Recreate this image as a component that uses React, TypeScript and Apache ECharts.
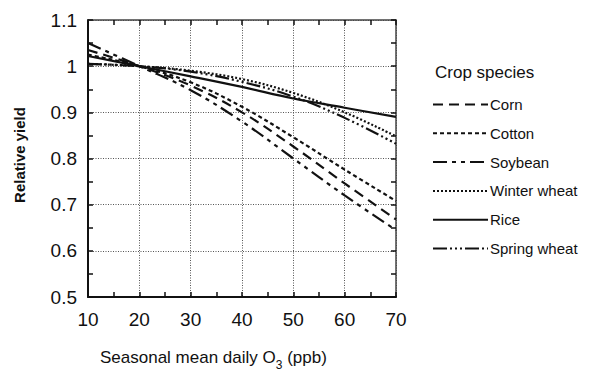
import React, { useEffect, useRef } from "react";
import * as echarts from "echarts";

const ozone = [10, 20, 30, 40, 50, 60, 70];
const cornYield = [1.035, 1.0, 0.958, 0.9, 0.826, 0.746, 0.668];
const cottonYield = [1.025, 1.0, 0.965, 0.912, 0.846, 0.776, 0.708];
const soybeanYield = [1.05, 1.0, 0.948, 0.88, 0.8, 0.72, 0.645];
const winterWheatYield = [1.005, 1.0, 0.99, 0.972, 0.942, 0.9, 0.848];
const riceYield = [1.022, 1.0, 0.978, 0.955, 0.93, 0.91, 0.89];
const springWheatYield = [1.005, 1.0, 0.988, 0.966, 0.934, 0.888, 0.832];

const seriesNames = ["Corn", "Cotton", "Soybean", "Winter wheat", "Rice", "Spring wheat"];
const seriesValues = [cornYield, cottonYield, soybeanYield, winterWheatYield, riceYield, springWheatYield];
const dashPatterns: (number[] | "solid")[] = [
  [10, 6],
  [4, 3],
  [14, 5, 4, 5, 4, 5],
  [2, 2],
  "solid",
  [14, 3, 2, 3, 2, 3, 2, 3],
];

const xTicks = { min: 10, max: 70, interval: 10 };
const yTicks = { min: 0.5, max: 1.1, interval: 0.1 };

export default function App() {
  const ref = useRef<HTMLDivElement>(null);
  useEffect(() => {
    document.body.style.margin = "0";
    if (!ref.current) return;
    const chart = echarts.init(ref.current, null, { renderer: "svg" });
    const font = "Liberation Sans, Arial, Helvetica, sans-serif";
    const black = "#111";
    const grid = { left: 88, top: 20, right: 207, bottom: 74 };
    const baseX = {
      type: "value" as const,
      min: xTicks.min,
      max: xTicks.max,
      interval: xTicks.interval,
    };
    const baseY = {
      type: "value" as const,
      min: yTicks.min,
      max: yTicks.max,
      interval: yTicks.interval,
    };
    chart.setOption({
      animation: false,
      grid,
      legend: {
        orient: "vertical",
        left: 432,
        top: 97,
        padding: 0,
        itemWidth: 55,
        itemHeight: 14,
        itemGap: 14.8 - 1,
        itemStyle: { opacity: 0 },
        textStyle: { fontFamily: font, fontSize: 15, color: black, padding: [0, 0, 0, -3] },
        data: seriesNames,
      },
      xAxis: [
        {
          ...baseX,
          position: "bottom",
          axisLine: { show: true, lineStyle: { color: black, width: 2 } },
          axisTick: { show: true, inside: true, length: 5, lineStyle: { color: black, width: 1.5 } },
          minorTick: { show: true, splitNumber: 2, length: 5, lineStyle: { color: black, width: 1.5 } },
          axisLabel: {
            fontFamily: font,
            fontSize: 19,
            color: black,
            margin: 13,
            formatter: (v: number) => String(v),
          },
          splitLine: { show: true, lineStyle: { color: "#555", type: [1, 1.5], width: 1 } },
        },
        {
          ...baseX,
          position: "top",
          axisLine: { show: true, lineStyle: { color: "#444", width: 1.5 } },
          axisTick: { show: true, inside: true, length: 5, lineStyle: { color: black, width: 1.5 } },
          minorTick: { show: true, splitNumber: 2, length: 5, lineStyle: { color: black, width: 1.5 } },
          axisLabel: { show: false },
          splitLine: { show: false },
        },
      ],
      yAxis: [
        {
          ...baseY,
          position: "left",
          axisLine: { show: true, lineStyle: { color: black, width: 2 } },
          axisTick: { show: true, inside: true, length: 5, lineStyle: { color: black, width: 1.5 } },
          minorTick: { show: true, splitNumber: 2, length: 5, lineStyle: { color: black, width: 1.5 } },
          axisLabel: {
            fontFamily: font,
            fontSize: 19,
            color: black,
            margin: 11,
            formatter: (v: number) => (Math.abs(v - 1) < 1e-9 ? "1" : v.toFixed(1)),
          },
          splitLine: { show: true, lineStyle: { color: "#555", type: [1, 1.5], width: 1 } },
        },
        {
          ...baseY,
          position: "right",
          axisLine: { show: true, lineStyle: { color: "#444", width: 1.5 } },
          axisTick: { show: true, inside: true, length: 5, lineStyle: { color: black, width: 1.5 } },
          minorTick: { show: true, splitNumber: 2, length: 5, lineStyle: { color: black, width: 1.5 } },
          axisLabel: { show: false },
          splitLine: { show: false },
        },
      ],
      series: seriesNames.map((name, i) => ({
        name,
        type: "line",
        xAxisIndex: 0,
        yAxisIndex: 0,
        smooth: 0.4,
        showSymbol: false,
        symbol: "none",
        data: ozone.map((x, j) => [x, seriesValues[i][j]]),
        lineStyle: { color: black, width: 2.2, type: dashPatterns[i] },
        itemStyle: { color: black },
      })),
      graphic: [
        {
          type: "text",
          left: 435,
          top: 64,
          style: { text: "Crop species", fontFamily: font, fontSize: 17, fill: black },
        },
        {
          type: "text",
          x: 19,
          y: 155,
          rotation: Math.PI / 2,
          style: {
            text: "Relative yield",
            fontFamily: font,
            fontSize: 15,
            fontWeight: "bold",
            fill: black,
            align: "center",
            verticalAlign: "middle",
          },
        },
        {
          type: "text",
          x: 100,
          y: 349,
          style: {
            rich: {
              a: { fontFamily: font, fontSize: 17, fill: black, verticalAlign: "top" },
              s: { fontFamily: font, fontSize: 12, fill: black, padding: [10, 0, 0, 0] },
            },
            text: "{a|Seasonal mean daily O}{s|3}{a| (ppb)}",
            fill: black,
          },
        },
      ],
    });
    return () => chart.dispose();
  }, []);
  return <div ref={ref} style={{ width: 603, height: 371 }} />;
}
